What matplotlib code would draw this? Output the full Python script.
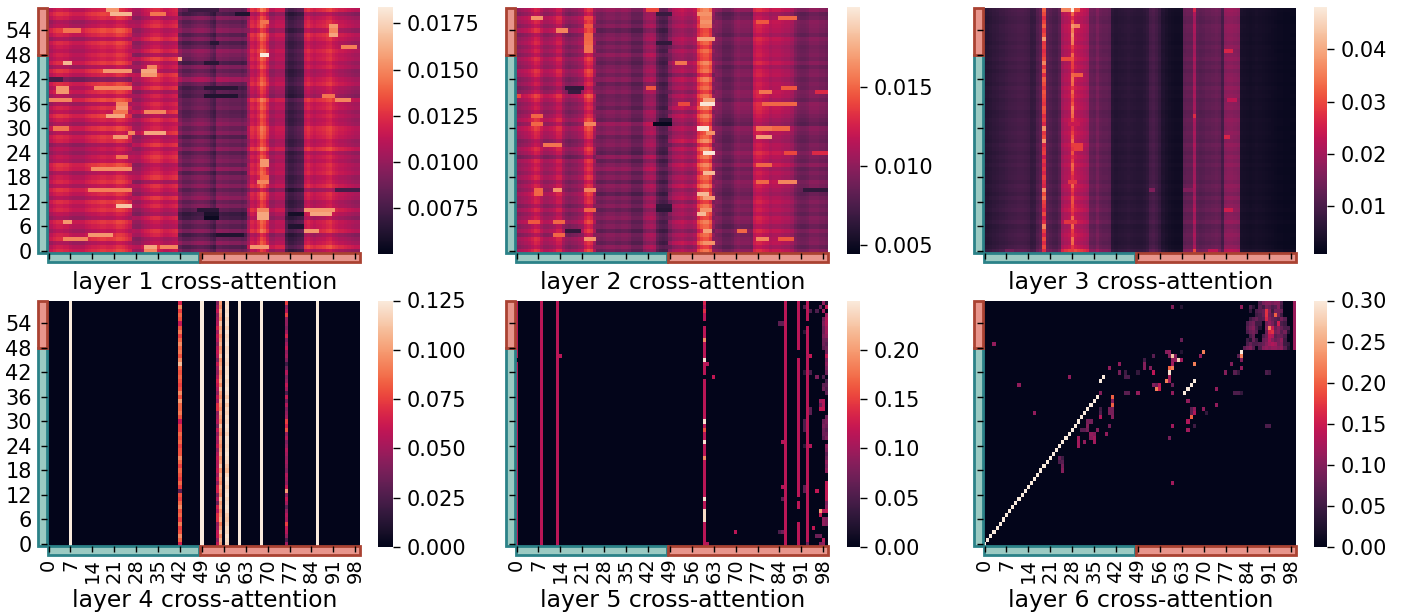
import numpy as np
import matplotlib
matplotlib.use('Agg')
import matplotlib.pyplot as plt
import matplotlib.patches as patches
import seaborn as sns

# values: column level, row gain, then streaks
titles = ['layer %d cross-attention' % i for i in range(1, 7)]
xtick_labels = list(range(0, 100, 7))
ytick_labels = list(range(0, 60, 6))

# layer 1
l1_cols = [.0105, .0110, .0115, .0118, .0118, .0116, .0116, .0112, .0110, .0110,
           .0110, .0110, .0114, .0116, .0118, .0118, .0120, .0122, .0122, .0120,
           .0120, .0122, .0126, .0126, .0124, .0120, .0115, .0106, .0104, .0104,
           .0110, .0114, .0116, .0120, .0122, .0122, .0118, .0114, .0114, .0116,
           .0118, .0120, .0092, .0085, .0085, .0085, .0088, .0090, .0092, .0092,
           .0090, .0088, .0082, .0078, .0092, .0092, .0090, .0090, .0088, .0088,
           .0088, .0088, .0085, .0088, .0105, .0120, .0116, .0124, .0138, .0132,
           .0120, .0105, .0105, .0110, .0110, .0110, .0078, .0072, .0072, .0075,
           .0078, .0080, .0116, .0120, .0115, .0112, .0115, .0116, .0118, .0122,
           .0124, .0118, .0115, .0112, .0112, .0110, .0108, .0106, .0104, .0104]
l1_edges = [0, 27, 42, 64, 100]
l1_gains = [[1.05, 1.00, .92, 1.06, 1.02, .94, 1.00, 1.05, .90, .96,
             1.04, 1.00, 1.06, .94, 1.02, 1.08, .95, 1.04, 1.00, .92,
             1.05, 1.08, .94, .98, .90, .96, .88, 1.02, 1.05, .94,
             1.06, .92, 1.00, 1.08, .96, 1.03, .92, 1.10, .94, 1.04,
             .98, 1.06, .80, 1.00, 1.08, .92, 1.06, .98, 1.02, .96,
             1.00, 1.05, .92, 1.03, 1.10, .96, .92, 1.02, 1.08, 1.00],
            [.98, 1.06, .94, .90, 1.00, 1.04, .92, .96, 1.02, .88,
             .94, 1.02, .96, 1.06, .92, .98, 1.04, .90, 1.06, 1.00,
             .96, .92, 1.02, 1.06, 1.00, .94, 1.06, .96, .92, 1.08,
             1.00, .96, 1.04, .92, 1.08, .98, 1.02, .94, 1.00, .90,
             1.06, .96, 1.02, 1.08, .92, 1.00, .94, 1.08, .90, 1.04,
             .96, .92, 1.06, .98, .94, 1.04, 1.00, .92, 1.00, 1.02],
            [1.02, .90, 1.08, .96, .86, 1.06, .92, 1.00, .84, .80,
             .92, 1.04, .96, 1.10, 1.02, .94, 1.08, .98, 1.04, .92,
             1.10, .96, 1.04, 1.00, .92, 1.08, .96, 1.02, .90, 1.06,
             .98, 1.08, 1.02, .94, .92, 1.00, .96, .98, .88, .92,
             .86, .98, 1.18, 1.02, .94, 1.06, .86, 1.00, 1.04, 1.10,
             .96, .88, 1.04, .92, 1.08, 1.00, .94, 1.06, .86, .96],
            [.94, 1.10, 1.00, .96, .90, 1.06, 1.00, 1.02, .92, .98,
             1.06, .96, .94, 1.00, 1.02, .88, 1.04, .98, .96, 1.03,
             1.00, 1.02, .96, 1.00, .94, 1.08, .98, .96, 1.02, 1.04,
             1.06, .98, .96, 1.00, .96, 1.02, 1.00, 1.08, .90, .94,
             .96, 1.04, 1.00, .94, .92, 1.00, .96, 1.02, 1.00, 1.04,
             .98, .96, 1.02, 1.06, .94, 1.04, 1.02, .98, .90, 1.06]]
# row, first column, last column, value
l1_streaks = [(59, 19, 22, .0155), (58, 20, 26, .0165), (58, 33, 37, .0145), (54, 5, 10, .0145),
              (55, 90, 92, .0155), (54, 90, 92, .015), (53, 90, 92, .016), (56, 68, 70, .0145),
              (48, 68, 70, .0183), (46, 5, 7, .0165), (44, 18, 26, .0155), (45, 32, 34, .015),
              (44, 30, 34, .016), (43, 30, 34, .0155), (42, 0, 4, .0075), (40, 3, 6, .0155),
              (39, 3, 6, .0155), (40, 15, 26, .015), (37, 0, 7, .015), (36, 22, 25, .015),
              (35, 22, 25, .0155), (34, 21, 25, .0145), (33, 19, 24, .016), (34, 31, 37, .015),
              (30, 2, 6, .0145), (29, 26, 27, .015), (28, 21, 25, .0155), (29, 31, 37, .016),
              (23, 22, 25, .0145), (22, 68, 70, .0155), (21, 68, 70, .0155), (20, 14, 26, .0152),
              (17, 67, 70, .015), (18, 68, 70, .014), (15, 13, 26, .0148), (11, 22, 26, .017),
              (10, 82, 91, .0155), (9, 84, 90, .016), (10, 67, 70, .015), (9, 67, 70, .016),
              (8, 67, 70, .016), (7, 5, 7, .0155), (5, 82, 86, .0155), (3, 5, 12, .015),
              (4, 13, 20, .0155), (1, 31, 34, .016), (0, 31, 34, .015), (1, 36, 41, .015),
              (1, 65, 70, .0155), (37, 92, 96, .015), (38, 88, 91, .0145), (50, 94, 98, .0148),
              (51, 52, 54, .0065), (9, 50, 54, .006), (8, 50, 54, .0055), (10, 48, 54, .0065),
              (9, 77, 81, .0058), (6, 77, 81, .0062), (4, 54, 62, .0062), (38, 50, 60, .0062),
              (40, 50, 60, .0065), (46, 50, 54, .0065), (58, 60, 64, .0062), (15, 92, 99, .0075),
              (59, 45, 54, .0072), (47, 42, 42, .016)]

# layer 2
l2_cols = [.0100, .0102, .0105, .0108, .0112, .0118, .0125, .0122, .0112, .0105,
           .0105, .0108, .0112, .0120, .0120, .0105, .0098, .0095, .0098, .0100,
           .0105, .0108, .0125, .0132, .0128, .0105, .0092, .0090, .0092, .0095,
           .0095, .0095, .0092, .0092, .0095, .0095, .0092, .0085, .0085, .0085,
           .0085, .0100, .0105, .0108, .0105, .0085, .0078, .0076, .0078, .0095,
           .0105, .0108, .0110, .0112, .0108, .0105, .0105, .0110, .0135, .0145,
           .0150, .0150, .0140, .0100, .0095, .0092, .0085, .0085, .0085, .0088,
           .0095, .0098, .0095, .0095, .0095, .0092, .0120, .0125, .0125, .0120,
           .0118, .0112, .0115, .0115, .0115, .0112, .0110, .0110, .0105, .0095,
           .0090, .0088, .0088, .0090, .0095, .0095, .0095, .0092, .0092, .0090]
l2_edges = [0, 26, 49, 64, 100]
l2_gains = [[1.08, .96, 1.02, 1.06, .92, 1.04, .96, 1.08, 1.00, .94,
             1.04, .92, 1.02, 1.00, 1.06, .96, 1.02, .94, 1.04, .96,
             1.02, .98, 1.04, .88, 1.00, 1.06, .96, .92, 1.02, 1.04,
             1.10, .96, 1.08, 1.00, .94, 1.00, .96, 1.04, 1.12, .96,
             .90, 1.00, .94, 1.04, 1.08, .96, 1.00, 1.06, .94, 1.02,
             .96, 1.04, 1.00, .92, 1.08, .96, 1.04, 1.08, .94, 1.02],
            [.96, 1.06, .92, 1.00, 1.04, .90, 1.02, .96, 1.06, 1.00,
             .92, 1.04, .96, 1.02, .88, 1.00, 1.06, .92, 1.04, .96,
             1.10, 1.02, .92, 1.08, .90, .96, 1.04, 1.00, .94, 1.06,
             1.02, 1.12, .94, 1.00, 1.04, .92, 1.00, .96, .94, 1.04,
             1.00, .92, 1.06, .96, 1.04, 1.00, .92, .98, 1.08, .96,
             1.02, .94, 1.04, 1.00, .90, 1.04, .96, 1.02, 1.00, 1.10],
            [1.04, .92, 1.08, .96, 1.02, .90, 1.00, 1.06, .94, 1.00,
             .96, 1.04, .92, 1.06, 1.00, .94, 1.08, .96, 1.02, .92,
             1.00, 1.08, .94, 1.04, .96, 1.06, .92, 1.10, 1.00, .96,
             1.04, .92, .98, 1.06, .94, 1.08, 1.00, .96, 1.04, .92,
             1.02, .96, 1.06, .90, 1.04, 1.00, 1.08, .94, .96, 1.02,
             .92, 1.00, 1.04, .96, .94, 1.02, .96, 1.00, 1.04, 1.08],
            [1.06, .94, 1.02, 1.00, .96, 1.04, .92, 1.00, 1.02, .94,
             1.00, .96, 1.02, .98, .92, .96, 1.00, 1.04, .96, 1.00,
             .94, 1.06, .96, 1.00, 1.06, .98, 1.00, .94, .96, 1.00,
             1.04, .90, .94, .98, 1.02, 1.04, 1.06, .96, 1.02, 1.04,
             .98, 1.00, .96, 1.02, 1.00, .94, 1.04, .96, 1.00, .98,
             .96, 1.00, 1.04, .94, 1.00, 1.02, 1.04, .96, .92, 1.06]]
l2_streaks = [(57, 5, 8, .0165), (54, 13, 16, .016), (57, 22, 24, .014), (55, 22, 24, .0145),
              (53, 22, 24, .015), (52, 22, 24, .015), (51, 22, 24, .0152), (50, 22, 24, .0155),
              (49, 22, 24, .0155), (58, 58, 62, .0165), (57, 59, 62, .016), (56, 59, 62, .0165),
              (55, 59, 62, .016), (52, 58, 63, .017), (36, 59, 63, .0198), (37, 60, 63, .017),
              (30, 58, 61, .0198), (29, 61, 63, .0165), (24, 60, 63, .0198), (19, 60, 63, .018),
              (14, 58, 61, .018), (13, 60, 63, .017), (9, 58, 60, .018), (10, 59, 62, .0165),
              (5, 60, 62, .017), (2, 60, 63, .0165), (31, 44, 49, .0048), (32, 46, 49, .006),
              (40, 16, 21, .0065), (39, 17, 20, .0068), (33, 5, 8, .015), (31, 5, 8, .015),
              (31, 22, 25, .016), (26, 9, 14, .0155), (15, 6, 8, .015), (14, 6, 8, .015),
              (15, 12, 14, .0165), (15, 22, 25, .016), (10, 22, 25, .015), (7, 4, 7, .0145),
              (7, 12, 15, .015), (4, 12, 15, .015), (3, 22, 25, .0165), (5, 16, 20, .0065),
              (28, 77, 81, .017), (30, 77, 81, .0155), (30, 82, 87, .015), (21, 77, 81, .015),
              (39, 78, 81, .0155), (36, 79, 89, .015), (40, 85, 89, .0145), (57, 84, 89, .015),
              (56, 77, 80, .0145), (17, 84, 89, .016), (17, 77, 80, .015), (3, 77, 80, .016),
              (3, 84, 88, .0145), (5, 71, 73, .015), (15, 92, 99, .0065), (46, 51, 54, .0155),
              (59, 42, 45, .014), (40, 42, 44, .0145), (36, 52, 55, .014), (58, 45, 49, .0068),
              (24, 86, 89, .014), (24, 95, 99, .013), (39, 96, 99, .013), (38, 0, 1, .014),
              (11, 45, 49, .0065), (10, 45, 49, .0062), (51, 45, 49, .0065)]

# layer 3
l3_cols = [.0055, .0058, .0062, .0068, .0072, .0078, .0080, .0085, .0090, .0092,
           .0095, .0098, .0098, .0095, .0090, .0075, .0078, .0105, .0120, .0270,
           .0120, .0110, .0100, .0098, .0115, .0200, .0215, .0225, .0300, .0235,
           .0225, .0220, .0210, .0200, .0135, .0130, .0150, .0130, .0125, .0125,
           .0120, .0060, .0055, .0058, .0060, .0062, .0065, .0062, .0060, .0058,
           .0058, .0062, .0070, .0095, .0100, .0090, .0075, .0050, .0042, .0036,
           .0032, .0030, .0030, .0032, .0125, .0130, .0130, .0200, .0120, .0115,
           .0118, .0125, .0125, .0130, .0135, .0130, .0095, .0170, .0175, .0175,
           .0170, .0165, .0040, .0038, .0036, .0034, .0036, .0038, .0036, .0034,
           .0032, .0030, .0028, .0026, .0024, .0024, .0022, .0022, .0020, .0020]
l3_gain = [1.30, 1.05, .95, 1.00, 1.05, .98, .92, 1.08, 1.00, .96,
           1.08, 1.02, .96, 1.04, .92, 1.00, 1.05, .95, 1.00, .98,
           .96, 1.04, .96, 1.02, .94, 1.00, 1.06, .96, 1.00, 1.04,
           .98, 1.00, 1.04, .96, .94, 1.02, 1.00, .96, 1.04, 1.00,
           1.06, .96, 1.02, 1.00, .94, 1.02, .96, 1.06, 1.00, .98,
           1.04, .96, 1.02, 1.00, 1.04, 1.06, .98, 1.00, 1.06, 1.10]
l3_col19 = [.027, .030, .027, .030, .026, .029, .036, .027, .025, .030,
            .026, .028, .029, .034, .030, .037, .026, .027, .029, .026,
            .028, .026, .028, .024, .029, .028, .026, .038, .030, .028,
            .037, .026, .029, .027, .030, .031, .028, .029, .030, .031,
            .028, .030, .032, .027, .033, .028, .036, .030, .028, .027,
            .029, .028, .038, .030, .028, .032, .029, .027, .030, .032]
l3_col28 = [.029, .028, .033, .034, .028, .029, .033, .038, .033, .027,
            .029, .030, .031, .031, .027, .029, .033, .031, .027, .029,
            .032, .033, .029, .027, .031, .028, .029, .033, .031, .029,
            .027, .030, .029, .033, .034, .035, .031, .029, .031, .033,
            .028, .033, .034, .033, .027, .029, .029, .031, .033, .027,
            .029, .035, .036, .037, .035, .038, .031, .027, .033, .048]
l3_streaks = [(59, 25, 27, .036), (59, 29, 30, .032), (55, 29, 30, .036), (47, 25, 27, .030),
              (43, 29, 31, .032), (15, 53, 54, .016), (15, 64, 66, .016), (33, 67, 67, .027),
              (28, 77, 78, .026), (49, 77, 79, .026), (10, 77, 79, .025), (37, 78, 80, .023),
              (0, 7, 9, .014), (0, 67, 67, .030), (0, 72, 74, .023), (59, 67, 67, .026),
              (7, 26, 29, .028), (26, 29, 31, .029), (25, 29, 31, .029), (17, 27, 29, .028),
              (31, 27, 30, .024)]

# layer 4
l4_col7 = [.125] * 60
l4_col42 = [.065, .085, .095, .080, .075, .090, .075, .085, .080, .095,
            .085, .075, .080, .030, .075, .085, .075, .080, .085, .075,
            .085, .095, .080, .080, .075, .085, .080, .085, .075, .075,
            .060, .080, .090, .085, .085, .100, .080, .095, .080, .075,
            .080, .085, .080, .085, .110, .095, .080, .090, .085, .095,
            .085, .075, .090, .080, .060, .080, .085, .075, .095, .065]
l4_col49 = [.125] * 60
l4_col54 = [.060, .045, .060, .060, .050, .045, .070, .070, .055, .065,
            .035, .055, .040, .065, .065, .045, .060, .050, .060, .055,
            .055, .060, .055, .045, .060, .050, .055, .045, .060, .040,
            .055, .050, .045, .070, .070, .050, .060, .045, .055, .060,
            .065, .055, .045, .050, .060, .040, .055, .060, .055, .045,
            .055, .060, .050, .065, .055, .050, .045, .060, .050, .040]
l4_col55 = [.100, .105, .095, .110, .100, .090, .105, .100, .095, .105,
            .100, .110, .095, .100, .105, .095, .100, .105, .095, .110,
            .100, .095, .105, .100, .095, .100, .105, .095, .100, .110,
            .095, .100, .105, .095, .100, .105, .095, .100, .110, .095,
            .105, .100, .095, .105, .100, .095, .110, .100, .095, .105,
            .100, .095, .105, .100, .110, .095, .100, .105, .095, .100]
l4_col57 = [.118, .120, .122, .118, .120, .116, .112, .114, .120, .122,
            .120, .118, .122, .120, .116, .120, .122, .118, .108, .112,
            .118, .120, .122, .120, .118, .120, .122, .116, .120, .122,
            .118, .120, .116, .118, .112, .120, .114, .120, .122, .120,
            .118, .122, .120, .122, .118, .120, .122, .120, .118, .122,
            .120, .118, .122, .116, .120, .118, .122, .120, .122, .120]
l4_col61 = [.125] * 60
l4_col68 = [.125] * 60
l4_col76 = [.050, .025, .045, .055, .060, .075, .050, .055, .045, .030,
            .050, .060, .045, .100, .060, .045, .050, .055, .040, .045,
            .050, .045, .050, .055, .045, .040, .055, .045, .080, .065,
            .075, .050, .045, .040, .055, .035, .060, .025, .050, .060,
            .045, .040, .055, .035, .020, .040, .050, .045, .060, .050,
            .040, .065, .050, .040, .045, .045, .075, .055, .045, .075]
l4_col86 = [.125] * 60

# layer 5
l5_line_cols = [0, 8, 13, 60, 86, 90, 93]
l5_line_value = [.115, .115, .115, .115, .115, .115, .115]
# row, column, value
l5_cells = [(45, 0, 0), (46, 14, .115), (45, 60, .245), (50, 60, .19), (30, 60, .245), (28, 60, .16),
            (25, 60, .245), (21, 60, .19), (11, 60, .245), (8, 60, .24), (7, 60, .24), (6, 60, .24),
            (54, 60, 0), (41, 60, 0), (59, 60, .13), (57, 60, .14), (44, 61, .11), (41, 63, .12),
            (3, 70, .115), (54, 84, .06), (54, 85, .06), (25, 85, .11), (14, 85, .11), (3, 85, .07),
            (3, 84, .05), (11, 85, .06), (46, 90, 0), (47, 90, 0), (11, 90, 0), (8, 90, 0), (7, 90, 0),
            (6, 90, 0), (54, 93, 0), (46, 93, .11), (42, 93, .11), (58, 99, .12), (59, 99, .02),
            (56, 99, .10), (55, 99, .11), (54, 99, .11), (53, 99, .10), (52, 99, .10), (51, 99, .09),
            (50, 99, .07), (49, 99, .06), (48, 99, .07), (47, 99, .07), (46, 99, .12), (45, 99, .08),
            (44, 99, .09), (43, 99, .08), (42, 99, .07), (40, 99, .05), (39, 99, .06), (38, 99, .05),
            (37, 99, .06), (31, 99, .07), (30, 99, .08), (29, 99, .07), (28, 99, .06), (27, 99, .07),
            (26, 99, .08), (24, 99, .09), (23, 99, .08), (22, 99, .06), (21, 99, .07), (20, 99, .09),
            (19, 99, .08), (18, 99, .09), (15, 99, .12), (14, 99, .12), (13, 99, .12), (12, 99, .12),
            (11, 99, .12), (10, 99, .08), (9, 99, .09), (8, 99, .12), (6, 99, .08), (5, 99, .08),
            (59, 98, .09), (57, 98, .10), (55, 98, .07), (54, 98, .08), (53, 98, .07), (52, 98, .07),
            (51, 98, .08), (50, 98, .07), (49, 98, .07), (48, 98, .06), (41, 98, .05), (39, 98, .06),
            (38, 98, .07), (35, 98, .11), (34, 98, .11), (33, 98, .12), (30, 98, .07), (29, 98, .08),
            (28, 98, .07), (27, 98, .07), (26, 98, .06), (8, 98, .11), (6, 98, .09), (5, 98, .09),
            (1, 98, .11), (0, 98, .09), (58, 97, .07), (35, 97, .10), (34, 97, .07), (33, 97, .12),
            (8, 97, .20), (7, 97, .12), (0, 97, .08), (13, 96, .12), (41, 96, .08), (57, 96, .05),
            (46, 94, .12), (24, 94, .11), (57, 94, .05), (42, 94, .05), (33, 94, .06), (32, 94, .06),
            (4, 95, .12), (2, 96, .07), (2, 97, .07), (0, 93, .07), (58, 92, .05), (52, 92, .03),
            (42, 92, .03), (30, 92, .05), (29, 92, .05), (28, 92, .05), (24, 92, .03), (14, 92, .06),
            (13, 92, .06), (0, 61, .11)]

# layer 6
l6_diagonal = [.30] * 37
l6_col99_top = [.115] * 12
l6_cells = [(40, 37, .30), (41, 38, .30), (37, 64, .30), (38, 65, .30), (39, 66, .30), (40, 67, .30),
            (49, 3, .11), (39, 11, .11), (32, 16, .11), (41, 27, .11), (21, 24, .08), (20, 24, .06),
            (20, 25, .07), (19, 25, .09), (18, 25, .10), (21, 25, .05), (24, 30, .12), (25, 30, .12),
            (26, 30, .12), (25, 32, .11), (30, 33, .09), (29, 33, .10), (28, 33, .09), (30, 34, .09),
            (28, 31, .07), (28, 32, .07), (27, 34, .11), (26, 34, .10), (27, 35, .10), (26, 35, .12),
            (25, 35, .12), (28, 36, .10), (33, 37, .05), (32, 37, .06), (31, 37, .13), (37, 37, .10),
            (27, 39, .11), (29, 40, .09), (33, 40, .09), (33, 41, .09), (32, 40, .09), (32, 41, .09),
            (31, 41, .10), (36, 41, .20), (35, 41, .10), (34, 41, .20), (43, 40, .11), (44, 43, .11),
            (42, 43, .09), (41, 45, .06), (41, 46, .06), (42, 45, .05), (37, 45, .07), (37, 46, .07),
            (37, 49, .11), (42, 49, .04), (44, 51, .10), (43, 51, .10), (45, 51, .05), (43, 53, .10),
            (42, 54, .14), (46, 54, .07), (39, 54, .10), (38, 55, .22), (38, 56, .15), (39, 56, .14),
            (39, 55, .08), (47, 58, .10), (47, 59, .11), (46, 59, .10), (46, 60, .27), (45, 60, .11),
            (44, 60, .12), (45, 61, .11), (43, 60, .22), (43, 59, .20), (42, 59, .29), (41, 59, .12),
            (40, 58, .22), (40, 59, .12), (39, 60, .08), (37, 60, .11), (45, 62, .28), (46, 61, .10),
            (45, 63, .12), (47, 63, .03), (50, 63, .08), (58, 60, .10), (58, 63, .03), (44, 67, .22),
            (46, 69, .11), (47, 70, .22), (38, 74, .11), (42, 77, .10), (44, 79, .10), (42, 80, .07),
            (42, 81, .04), (37, 81, .06), (37, 80, .06), (37, 82, .04), (46, 81, .07), (47, 82, .30),
            (46, 82, .22), (45, 82, .10), (43, 82, .11), (58, 82, .11), (35, 65, .11), (33, 67, .11),
            (32, 67, .13), (33, 66, .07), (32, 66, .07), (31, 66, .20), (30, 65, .13), (28, 65, .12),
            (29, 67, .05), (29, 60, .12), (26, 59, .09), (33, 70, .11), (32, 71, .04), (34, 74, .11),
            (29, 90, .06), (29, 91, .06), (42, 90, .06), (42, 91, .05), (15, 60, .12)]
# rows 48 to 59, columns 83 to 98
l6_block = [[.07, .09, .10, .07, .00, .06, .10, .11, .10, .11, .11, .10, .11, .07, .03, .00],
            [.00, .06, .08, .06, .06, .07, .08, .10, .12, .13, .12, .09, .10, .05, .04, .00],
            [.00, .05, .03, .08, .05, .00, .08, .09, .13, .10, .08, .09, .11, .05, .00, .00],
            [.00, .00, .06, .08, .00, .00, .06, .08, .14, .13, .07, .08, .08, .06, .00, .00],
            [.00, .06, .08, .09, .07, .00, .00, .08, .16, .17, .09, .10, .07, .09, .03, .00],
            [.00, .07, .09, .10, .06, .03, .00, .10, .22, .15, .08, .10, .08, .06, .06, .00],
            [.00, .06, .08, .09, .05, .05, .00, .09, .11, .09, .06, .15, .06, .05, .00, .00],
            [.00, .00, .05, .07, .08, .06, .07, .16, .10, .08, .07, .06, .09, .07, .00, .00],
            [.00, .00, .00, .00, .05, .06, .08, .17, .09, .07, .20, .09, .05, .00, .00, .00],
            [.00, .00, .04, .00, .06, .07, .08, .17, .10, .05, .09, .09, .08, .00, .00, .00],
            [.00, .00, .06, .03, .00, .07, .05, .09, .08, .06, .07, .10, .05, .00, .00, .00],
            [.00, .00, .00, .00, .00, .06, .09, .10, .10, .09, .10, .10, .06, .00, .00, .00]]

vmins = [.00504, .00446, .0009, 0, 0, 0]
vmaxs = [.01835, .0200, .0480, .125, .25, .30]
cbar_ticks = [[.0075, .01, .0125, .015, .0175],
              [.005, .01, .015],
              [.01, .02, .03, .04],
              [0, .025, .05, .075, .1, .125],
              [0, .05, .1, .15, .2],
              [0, .05, .1, .15, .2, .25, .3]]
cbar_labels = [['0.0075', '0.0100', '0.0125', '0.0150', '0.0175'],
               ['0.005', '0.010', '0.015'],
               ['0.01', '0.02', '0.03', '0.04'],
               ['0.000', '0.025', '0.050', '0.075', '0.100', '0.125'],
               ['0.00', '0.05', '0.10', '0.15', '0.20'],
               ['0.00', '0.05', '0.10', '0.15', '0.20', '0.25', '0.30']]


def streaked(cols, edges, gains, streaks):
    # column level times the gain of that row, one gain list per column band
    data = np.zeros((60, 100))
    cols = np.array(cols)
    for b in range(len(gains)):
        c0, c1 = edges[b], edges[b + 1]
        for r in range(60):
            data[r, c0:c1] = cols[c0:c1] * gains[b][r]
    for r, c0, c1, v in streaks:
        data[r, c0:c1 + 1] = v
    return data


def layer3():
    data = streaked(l3_cols, [0, 100], [l3_gain], [])
    data[:, 19] = l3_col19
    data[:, 28] = l3_col28
    for r, c0, c1, v in l3_streaks:
        data[r, c0:c1 + 1] = v
    return data


def layer4():
    data = np.zeros((60, 100))
    data[:, 7] = l4_col7
    data[:, 42] = l4_col42
    data[:, 49] = l4_col49
    data[:, 54] = l4_col54
    data[:, 55] = l4_col55
    data[:, 57] = l4_col57
    data[:, 61] = l4_col61
    data[:, 68] = l4_col68
    data[:, 76] = l4_col76
    data[:, 86] = l4_col86
    return data


def layer5():
    data = np.zeros((60, 100))
    for c, v in zip(l5_line_cols, l5_line_value):
        data[:, c] = v
    for r, c, v in l5_cells:
        data[r, c] = v
    return data


def layer6():
    data = np.zeros((60, 100))
    for i, v in enumerate(l6_diagonal):
        data[i, i] = v
    data[48:60, 99] = l6_col99_top
    data[48:60, 83:99] = l6_block
    for r, c, v in l6_cells:
        data[r, c] = v
    return data


all_data = [streaked(l1_cols, l1_edges, l1_gains, l1_streaks),
            streaked(l2_cols, l2_edges, l2_gains, l2_streaks),
            layer3(), layer4(), layer5(), layer6()]

W, H = 1401, 614
fig = plt.figure(figsize=(W / 100, H / 100), dpi=100)

ax_lefts = [47, 515, 983]
cbar_lefts = [378, 847, 1314]
cbar_widths = [15, 13, 13]
ax_tops = [8, 301]
ax_w, ax_h = 313, 245

TEAL, TEAL_EDGE = '#9bcac2', '#2b8288'
RED, RED_EDGE = '#e8958c', '#aa4232'

for i in range(6):
    row, col = i // 3, i % 3
    x0, y0 = ax_lefts[col], ax_tops[row]
    ax = fig.add_axes([x0 / W, 1 - (y0 + ax_h) / H, ax_w / W, ax_h / H])
    cax = fig.add_axes([cbar_lefts[col] / W, 1 - (y0 + ax_h + 1) / H, cbar_widths[col] / W, (ax_h + 1.5) / H])
    sns.heatmap(all_data[i], ax=ax, cbar_ax=cax, vmin=vmins[i], vmax=vmaxs[i],
                xticklabels=False, yticklabels=False)
    ax.invert_yaxis()
    ax.set_axisbelow(False)

    ax.set_xticks(np.array(xtick_labels) + 0.5)
    ax.set_yticks(np.array(ytick_labels) + 0.5)
    ax.set_xticklabels(xtick_labels if row == 1 else [], rotation=90, fontsize=14)
    ax.set_yticklabels(ytick_labels if col == 0 else [], rotation=0, fontsize=15)
    ax.tick_params(axis='both', length=4, width=1, pad=7, color='black')
    ax.tick_params(axis='x', pad=5)
    ax.text(0.504, -0.122 if row == 0 else -0.222, titles[i], transform=ax.transAxes,
            ha='center', va='center', fontsize=16.9, clip_on=False)

    # group strips along both axes
    strips = [((-3.0, 0), 3.0, 48.4, TEAL, TEAL_EDGE),
              ((-3.0, 48.6), 3.0, 11.4, RED, RED_EDGE),
              ((0.3, -2.3), 48.2, 2.3, TEAL, TEAL_EDGE),
              ((48.8, -2.3), 51.2, 2.3, RED, RED_EDGE)]
    for xy, w, h, face, edge in strips:
        ax.add_patch(patches.Rectangle(xy, w, h, facecolor=face, edgecolor=edge,
                                       linewidth=2, clip_on=False, zorder=2))

    cax.set_yticks(cbar_ticks[i])
    cax.set_yticklabels(cbar_labels[i], fontsize=15)
    cax.tick_params(axis='y', length=5, width=1, pad=5, color='black')

fig.savefig('out.png', dpi=100)
